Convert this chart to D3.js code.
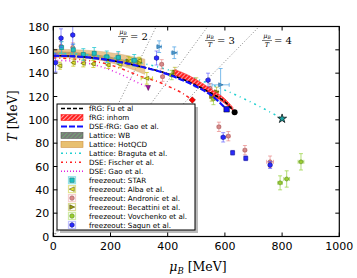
<!DOCTYPE html>
<html><head><meta charset="utf-8">
<script src="https://cdn.jsdelivr.net/npm/d3@7"></script>
<style>body{margin:0;background:#fff}svg{display:block}</style>
</head><body>
<svg id="c" width="357" height="278"></svg>
<script>
// ---------- data ----------
const xTicks = [0,200,400,600,800,1000];
const yTicks = [0,20,40,60,80,100,120,140,160,180];
const ratioLines = [2,3,4];

const fuMu = [0,100,200,300,400,500,550,600,634];
const fuT  = [155,154,151,146,139.5,129.5,123,115.5,106.5];
const gaoFrgMu = [0,100,200,300,400,500,550,606];
const gaoFrgT  = [155,154,151,146,139,128.5,121.5,109];
const inhomMu = [425,470,513,560,600,628];
const inhomHi = [143,138.5,132.5,125,118,110.5];
const inhomLo = [138,133.5,127.5,120.5,114,108];
const wbMu = [0,50,100,150,200,250,300];
const wbHi = [158.5,158.3,157.5,156,154,151.5,148.5];
const wbLo = [156,155.8,155,153.5,151.5,148.5,145];
const hotMu = [0,50,100,150,200,250,300,320];
const hotHi = [160.5,160.3,159.8,159,157.5,155.5,153,152];
const hotLo = [153.5,153.3,152.8,151.8,149,145.5,141,139];
const bragMu = [0,100,200,300,400,500,600,700,800];
const bragT  = [157,156.1,153.5,149.1,143,135.1,125.5,114.1,101];
const fischMu = [0,100,200,268,303,373,408,443,486];
const fischT  = [153,151.5,147,141,137.5,132,128,124,117];
const dseGaoMu = [0,60,120,180,240,290,332];
const dseGaoT  = [151,150.5,148.5,144.5,138.5,132.5,128];

// freezeout points: [muB, T, muErr, TErr]
const starPts = [[29,162,4,5],[70,160,5,5],[105,156,5,5],[143,157,6,5],[187,154,7,5],[227,153.5,8,5],[283,151,9,5]];
const starExtraPts = [[370,162.7,8,5],[423,157.5,10,5],[585,130,30,14]];
const albaPts = [[23,146.4,3,3],[70,149,3,3],[105,148.4,3,3],[140,147.9,3,3],[192,147,3,3],[233,147.6,3,3],[268,150.4,4,3],[301,150.7,4,3],[327,135.6,20,5]];
const andronicPts = [[27,163,4,4],[68,162,4,4],[227,153.3,5,4],[379,147.6,6,4],[382,137,6,4],[548,127,6,4],[579,94,6,4],[612,86,6,4],[670,74,6,4],[758,64,12,5]];
const becattiniPts = [[262,150.4,6,4],[300,149,6,4],[425,141,6,4],[500,132,6,4],[554,120,6,4],[571,124,6,4]];
const vovchenkoPts = [[414,138.4,8,4],[560,118,8,5],[793,46,8,6],[816,49.3,10,7],[866,64,10,7]];
const sagunPts = [[8,149,3,8],[27,170,4,8],[68,172.7,4,8],[361,153,6,6],[541,134,6,6],[594,85,7,4],[758,61.3,5,3]];
const sagunSqPts = [[627,71.8,3,2],[673,67,3,2]];
const cepFu = [634,106.5];
const cepGaoFrg = [606,109];
const cepFischer = [486,117];
const cepBraguta = [800,101];
const cepDseGao = [332,127.5];

const legendLabels = ["fRG: Fu et al","fRG: inhom","DSE-fRG: Gao et al.","Lattice: WB","Lattice: HotQCD","Lattice: Braguta et al.","DSE: Fischer et al.","DSE: Gao et al.","freezeout: STAR","freezeout: Alba et al.","freezeout: Andronic et al.","freezeout: Becattini et al.","freezeout: Vovchenko et al.","freezeout: Sagun et al."];

// ---------- chart ----------
const svg = d3.select("#c");
const L=53.3,R=339.3,T0=26.5,B=236.5;
const x = d3.scaleLinear([0,1000],[L,R]);
const y = d3.scaleLinear([0,180],[B,T0]);

const defs = svg.append("defs");
const cp = defs.append("clipPath").attr("id","clip");
cp.append("rect").attr("x",L).attr("y",T0).attr("width",R-L).attr("height",B-T0);
function hatch(id,bg,fg){
  const p = defs.append("pattern").attr("id",id).attr("patternUnits","userSpaceOnUse")
    .attr("width",3).attr("height",3).attr("patternTransform","rotate(45)");
  p.append("rect").attr("width",3).attr("height",3).attr("fill",bg);
  p.append("line").attr("x1",0).attr("y1",0).attr("x2",0).attr("y2",3).attr("stroke",fg).attr("stroke-width",1.2);
}
hatch("hRed","#ff2020","#ffffff");
hatch("hGray","#7a7a7a","#6fc36f");

const g = svg.append("g").attr("clip-path","url(#clip)");

// ratio lines
ratioLines.forEach(r=>{
  g.append("line").attr("x1",x(0)).attr("y1",y(0)).attr("x2",x(180*r)).attr("y2",y(180))
   .attr("stroke","#666").attr("stroke-width",0.8).attr("stroke-dasharray","1,2");
});

const area = (mu,hi,lo)=> d3.area().x((d,i)=>x(mu[i])).y0((d,i)=>y(lo[i])).y1((d,i)=>y(hi[i])).curve(d3.curveMonotoneX)(mu);
const line = (mu,t)=> d3.line().x((d,i)=>x(mu[i])).y((d,i)=>y(t[i])).curve(d3.curveMonotoneX)(mu);

g.append("path").attr("d",area(wbMu,wbHi,wbLo)).attr("fill","url(#hGray)").attr("opacity",0.8);
g.append("path").attr("d",area(hotMu,hotHi,hotLo)).attr("fill","#dca04a").attr("opacity",0.6).attr("stroke","#b07a30").attr("stroke-width",0.5);

g.append("path").attr("d",line(dseGaoMu,dseGaoT)).attr("fill","none").attr("stroke","#e020e0").attr("stroke-width",1.5).attr("stroke-dasharray","1,3");
g.append("path").attr("d",line(fischMu,fischT)).attr("fill","none").attr("stroke","#ff2020").attr("stroke-width",1.5).attr("stroke-dasharray","3,3,1,3");
g.append("path").attr("d",line(bragMu,bragT)).attr("fill","none").attr("stroke","#20d0d0").attr("stroke-width",1.5).attr("stroke-dasharray","2,4,1,4");

// freezeout points
function pts(data,shape,fill,edge,err,size){
  const gg = g.append("g");
  data.forEach(d=>{
    const cx=x(d[0]), cy=y(d[1]);
    gg.append("line").attr("x1",x(d[0]-d[2])).attr("x2",x(d[0]+d[2])).attr("y1",cy).attr("y2",cy).attr("stroke",err).attr("stroke-width",1);
    gg.append("line").attr("x1",cx).attr("x2",cx).attr("y1",y(d[1]-d[3])).attr("y2",y(d[1]+d[3])).attr("stroke",err).attr("stroke-width",1);
    [[x(d[0]-d[2]),cy,0],[x(d[0]+d[2]),cy,0],[cx,y(d[1]-d[3]),1],[cx,y(d[1]+d[3]),1]].forEach(c=>{
      if(c[2]===0) gg.append("line").attr("x1",c[0]).attr("x2",c[0]).attr("y1",c[1]-2).attr("y2",c[1]+2).attr("stroke",err);
      else gg.append("line").attr("x1",c[0]-2).attr("x2",c[0]+2).attr("y1",c[1]).attr("y2",c[1]).attr("stroke",err);
    });
    gg.append("path").attr("transform",`translate(${cx},${cy})`).attr("d",shape(size||4))
      .attr("fill",fill).attr("stroke",edge).attr("stroke-width",0.6);
  });
}
const sq = s=>`M${-s/2},${-s/2}h${s}v${s}h${-s}Z`;
const circ = s=>d3.symbol(d3.symbolCircle, s*s*0.8)();
const triL = s=>`M${-s/2-0.5},0L${s/2},${-s/2}L${s/2},${s/2}Z`;
const triR = s=>`M${s/2+0.5},0L${-s/2},${-s/2}L${-s/2},${s/2}Z`;
const triD = s=>`M0,${s/2+0.5}L${-s/2},${-s/2}L${s/2},${-s/2}Z`;
const hexa = s=>{const r=s*0.55;return d3.range(6).map(k=>{const a=Math.PI/3*k+Math.PI/6;return (k?"L":"M")+(r*Math.cos(a)).toFixed(2)+","+(r*Math.sin(a)).toFixed(2);}).join("")+"Z";};
const star = s=>d3.symbol(d3.symbolStar, s*s*1.0)();

pts(andronicPts,circ,"#d88a8a","#a05858","rgba(230,120,120,0.6)");
pts(vovchenkoPts,circ,"#9acd32","#5a8a20","rgba(150,210,60,0.7)");
pts(becattiniPts,triR,"#9a9a10","#4a4a00","rgba(180,180,40,0.7)");
pts(albaPts,triL,"#e8e830","#555500","rgba(200,200,30,0.8)");
pts(starPts,sq,"#20c0c0","#108080","rgba(40,200,210,0.8)");
pts(starExtraPts,triR,"#4a9ad0","#2a6a9a","rgba(90,170,230,0.8)");
pts(sagunPts,hexa,"#2a2aff","#10108a","rgba(80,80,255,0.6)",4.5);
pts(sagunSqPts,sq,"#2a2aff","#10108a","rgba(80,80,255,0.6)");

// fRG curves
g.append("path").attr("d",area(inhomMu,inhomHi,inhomLo)).attr("fill","url(#hRed)").attr("stroke","#ff2020").attr("stroke-width",0.6);
g.append("path").attr("d",line(fuMu,fuT)).attr("fill","none").attr("stroke","#000").attr("stroke-width",1.5).attr("stroke-dasharray","4,2");
g.append("path").attr("d",line(gaoFrgMu,gaoFrgT)).attr("fill","none").attr("stroke","#1010ff").attr("stroke-width",2.2).attr("stroke-dasharray","6,2");

// CEPs
g.append("circle").attr("cx",x(cepFu[0])).attr("cy",y(cepFu[1])).attr("r",3).attr("fill","#000");
g.append("path").attr("transform",`translate(${x(cepGaoFrg[0])},${y(cepGaoFrg[1])})`).attr("d",sq(5.5)).attr("fill","#1010ff").attr("stroke","#000").attr("stroke-width",0.5);
g.append("path").attr("transform",`translate(${x(cepFischer[0])},${y(cepFischer[1])}) rotate(45)`).attr("d",sq(4.5)).attr("fill","#ff0000").attr("stroke","#800").attr("stroke-width",0.5);
g.append("path").attr("transform",`translate(${x(cepBraguta[0])},${y(cepBraguta[1])})`).attr("d",star(5)).attr("fill","#1aa0a0").attr("stroke","#000").attr("stroke-width",0.7);
g.append("path").attr("transform",`translate(${x(cepDseGao[0])},${y(cepDseGao[1])})`).attr("d",triD(4.5)).attr("fill","#a010a0").attr("stroke","#400040").attr("stroke-width",0.5);

// ratio labels
ratioLines.forEach((r,i)=>{
  const px = [118,205,262][i], py=[31,35,35][i];
  const lg = svg.append("g").attr("font-family","'DejaVu Serif',serif").attr("fill","#000");
  lg.append("text").attr("x",px+5).attr("y",py+3).attr("text-anchor","middle").attr("font-size",6.5).attr("font-style","italic")
    .text("μ").append("tspan").attr("font-size",4.5).attr("dy",1).text("B");
  lg.append("line").attr("x1",px).attr("x2",px+10).attr("y1",py+5.5).attr("y2",py+5.5).attr("stroke","#000").attr("stroke-width",0.5);
  lg.append("text").attr("x",px+5).attr("y",py+11.5).attr("text-anchor","middle").attr("font-size",6.5).attr("font-style","italic").text("T");
  lg.append("text").attr("x",px+12).attr("y",py+9).attr("font-size",10).text("= "+r);
});

// legend
const lx=57, ly=104, lw=138, lh=126;
svg.append("rect").attr("x",lx+3).attr("y",ly+3).attr("width",lw).attr("height",lh).attr("fill","#bbbbbb");
svg.append("rect").attr("x",lx).attr("y",ly).attr("width",lw).attr("height",lh).attr("fill","#fff").attr("stroke","#000").attr("stroke-width",1);
const rowY = i=> ly+4.6+i*8.95;
legendLabels.forEach((t,i)=>{
  svg.append("text").attr("x",89).attr("y",rowY(i)+2.6).attr("font-family","'DejaVu Sans',sans-serif").attr("font-size",7.2).text(t);
});
const hx0=61, hx1=83, hm=72;
const lineH = (i,col,w,dash)=>svg.append("line").attr("x1",hx0).attr("x2",hx1).attr("y1",rowY(i)).attr("y2",rowY(i)).attr("stroke",col).attr("stroke-width",w).attr("stroke-dasharray",dash);
const boxH = (i,fill,stroke)=>svg.append("rect").attr("x",hx0).attr("y",rowY(i)-3).attr("width",hx1-hx0).attr("height",6).attr("fill",fill).attr("stroke",stroke).attr("stroke-width",0.6);
lineH(0,"#000",1.5,"4,2");
boxH(1,"url(#hRed)","#ff2020");
lineH(2,"#1010ff",2.2,"6,2");
boxH(3,"url(#hGray)","#555");
boxH(4,"#e8c070","#d09040");
lineH(5,"#20d0d0",1.5,"2,3,1,3");
lineH(6,"#ff2020",1.5,"2,3,1,3");
lineH(7,"#e020e0",1.5,"1,2");
const legM = [[sq,"#20c0c0","#108080","rgba(40,200,210,0.5)"],[triL,"#e8e830","#555500","rgba(200,200,30,0.5)"],[circ,"#d88a8a","#a05858","rgba(230,120,120,0.35)"],[triR,"#9a9a10","#4a4a00","rgba(180,180,40,0.5)"],[circ,"#9acd32","#5a8a20","rgba(150,210,60,0.45)"],[hexa,"#2a2aff","#10108a","rgba(80,80,255,0.35)"]];
legM.forEach((m,k)=>{
  const i=8+k;
  svg.append("rect").attr("x",hm-3.5).attr("y",rowY(i)-3.5).attr("width",7).attr("height",7).attr("fill","none").attr("stroke",m[3]).attr("stroke-width",1.2);
  svg.append("path").attr("transform",`translate(${hm},${rowY(i)})`).attr("d",m[0](4.5)).attr("fill",m[1]).attr("stroke",m[2]).attr("stroke-width",0.6);
});

// frame & axes
svg.append("rect").attr("x",L).attr("y",T0).attr("width",R-L).attr("height",B-T0).attr("fill","none").attr("stroke","#000").attr("stroke-width",1.2);
const ax = svg.append("g").attr("font-family","'DejaVu Sans',sans-serif").attr("font-size",11);
xTicks.forEach(v=>{
  ax.append("line").attr("x1",x(v)).attr("x2",x(v)).attr("y1",B).attr("y2",B-4).attr("stroke","#000");
  ax.append("line").attr("x1",x(v)).attr("x2",x(v)).attr("y1",T0).attr("y2",T0+4).attr("stroke","#000");
  ax.append("text").attr("x",x(v)).attr("y",B+13).attr("text-anchor","middle").text(v);
});
yTicks.forEach(v=>{
  ax.append("line").attr("x1",L).attr("x2",L+4).attr("y1",y(v)).attr("y2",y(v)).attr("stroke","#000");
  ax.append("line").attr("x1",R).attr("x2",R-4).attr("y1",y(v)).attr("y2",y(v)).attr("stroke","#000");
  ax.append("text").attr("x",L-4).attr("y",y(v)+4).attr("text-anchor","end").text(v);
});
const xl = svg.append("text").attr("x",198).attr("y",271).attr("text-anchor","middle").attr("font-family","'DejaVu Serif','Liberation Serif',serif").attr("font-size",12.5);
xl.append("tspan").attr("font-style","italic").text("μ");
xl.append("tspan").attr("font-style","italic").attr("font-size",8.5).attr("dy",2.5).text("B");
xl.append("tspan").attr("dy",-2.5).text(" [MeV]");
const yl = svg.append("text").attr("transform","translate(17,116) rotate(-90)").attr("text-anchor","middle").attr("font-family","'DejaVu Serif','Liberation Serif',serif").attr("font-size",12.5);
yl.append("tspan").attr("font-style","italic").text("T");
yl.append("tspan").text(" [MeV]");
</script>
</body></html>
